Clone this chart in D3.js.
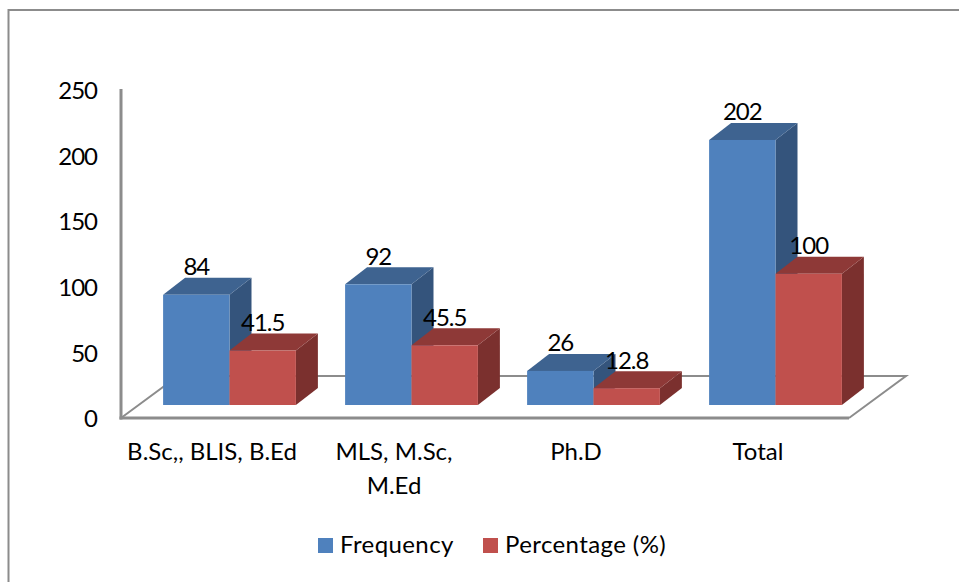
<!DOCTYPE html>
<html>
<head>
<meta charset="utf-8">
<script src="https://cdn.jsdelivr.net/npm/d3@7"></script>
<style>
  html, body { margin: 0; padding: 0; background: #fff; }
  svg { display: block; }
  text { font-family: Lato, "Open Sans", sans-serif; fill: #000; }
</style>
</head>
<body>
<div id="chart"></div>
<script>
const categories = ["B.Sc,, BLIS, B.Ed", "MLS, M.Sc, M.Ed", "Ph.D", "Total"];
const categoryLines = [["B.Sc,, BLIS, B.Ed"], ["MLS, M.Sc,", "M.Ed"], ["Ph.D"], ["Total"]];
const seriesNames = ["Frequency", "Percentage (%)"];
const frequency = [84, 92, 26, 202];
const percentage = [41.5, 45.5, 12.8, 100];
const yTicks = [0, 50, 100, 150, 200, 250];

const BLUE = "#4f81bd";
const BLUE_TOP = "#3e6390";
const BLUE_SIDE = "#34547c";
const RED = "#c0504d";
const RED_TOP = "#8e3937";
const RED_SIDE = "#7b302e";
const GREY = "#8c8c8c";

const width = 959, height = 582;
const fontSize = 24;
const digitSpacing = "-1px"; // Lato digits run wider than the original font

// fake 3d: depth offset of the back plane, front of bars sits above the axis zero
const depthX = 22, depthY = 17;
const floorX = 57, floorY = 42;
const frontLift = 13;
const barWidth = 66.4;

const svg = d3.select("#chart").append("svg")
  .attr("width", width)
  .attr("height", height);

const x = d3.scaleBand().domain(categories).range([121, 849]);
const y = d3.scaleLinear().domain([0, 250]).range([418, 90]);
const x1 = d3.scaleBand().domain(seriesNames).range([0, 2 * barWidth]);

// outer frame, only top and left show in the picture
svg.append("path")
  .attr("d", `M8.5,${height} V10 H${width}`)
  .attr("fill", "none")
  .attr("stroke", GREY)
  .attr("stroke-width", 2);

// floor
const y0 = y(0), xL = x.range()[0], xR = x.range()[1];
svg.append("path")
  .attr("d", `M${xL},${y0} L${xL + floorX},${y0 - floorY} H${xR + floorX} L${xR},${y0}`)
  .attr("fill", "none")
  .attr("stroke", GREY)
  .attr("stroke-width", 2);

// Y axis
const yAxis = svg.append("g")
  .attr("transform", `translate(${xL},0)`)
  .call(d3.axisLeft(y).tickValues(yTicks).tickSize(0).tickPadding(24));
yAxis.selectAll("text")
  .style("font-size", fontSize + "px")
  .style("letter-spacing", digitSpacing)
  .attr("dy", "0.36em");
yAxis.select(".domain").remove();

svg.append("line")
  .attr("x1", xL).attr("x2", xL)
  .attr("y1", y(250) - 1).attr("y2", y0 + 1.5)
  .attr("stroke", GREY)
  .attr("stroke-width", 3);
svg.append("line")
  .attr("x1", xL - 1.5).attr("x2", xR)
  .attr("y1", y0).attr("y2", y0)
  .attr("stroke", GREY)
  .attr("stroke-width", 3);

// X labels
categories.forEach(function(c, i) {
  const t = svg.append("text")
    .attr("text-anchor", "middle")
    .style("font-size", fontSize + "px");
  categoryLines[i].forEach(function(line, j) {
    t.append("tspan")
      .attr("x", x(c) + x.bandwidth() / 2)
      .attr("y", 460 + j * 34)
      .text(line);
  });
});

function drawBar(g, left, value, front, top, side) {
  const base = y0 - frontLift;
  const yTop = y(value) - frontLift;
  const right = left + barWidth;
  g.append("path")
    .attr("d", `M${right},${base} L${right + depthX},${base - depthY} V${yTop - depthY} L${right},${yTop} Z`)
    .attr("fill", side);
  g.append("path")
    .attr("d", `M${left},${yTop} L${left + depthX},${yTop - depthY} H${right + depthX} L${right},${yTop} Z`)
    .attr("fill", top);
  g.append("rect")
    .attr("x", left)
    .attr("y", yTop)
    .attr("width", barWidth)
    .attr("height", base - yTop)
    .attr("fill", front);
}

const bars = svg.append("g");
categories.forEach(function(c, i) {
  const start = x(c) + x.bandwidth() / 2 - barWidth + 17.5;
  drawBar(bars, start + x1(seriesNames[0]), frequency[i], BLUE, BLUE_TOP, BLUE_SIDE);
  drawBar(bars, start + x1(seriesNames[1]), percentage[i], RED, RED_TOP, RED_SIDE);
});

// value labels go over all bars
categories.forEach(function(c, i) {
  const start = x(c) + x.bandwidth() / 2 - barWidth + 17.5;
  [frequency[i], percentage[i]].forEach(function(v, k) {
    svg.append("text")
      .attr("x", start + x1(seriesNames[k]) + barWidth / 2)
      .attr("y", y(v) - frontLift - 19.5)
      .attr("text-anchor", "middle")
      .style("font-size", fontSize + "px")
      .style("letter-spacing", digitSpacing)
      .text(v);
  });
});

// legend
const legendX = [318, 483];
seriesNames.forEach(function(name, i) {
  svg.append("rect")
    .attr("x", legendX[i])
    .attr("y", 538)
    .attr("width", 15)
    .attr("height", 15)
    .attr("fill", i === 0 ? BLUE : RED);
  svg.append("text")
    .attr("x", legendX[i] + 22)
    .attr("y", 553)
    .style("font-size", fontSize + "px")
    .style("letter-spacing", "0.4px")
    .text(name);
});
</script>
</body>
</html>
